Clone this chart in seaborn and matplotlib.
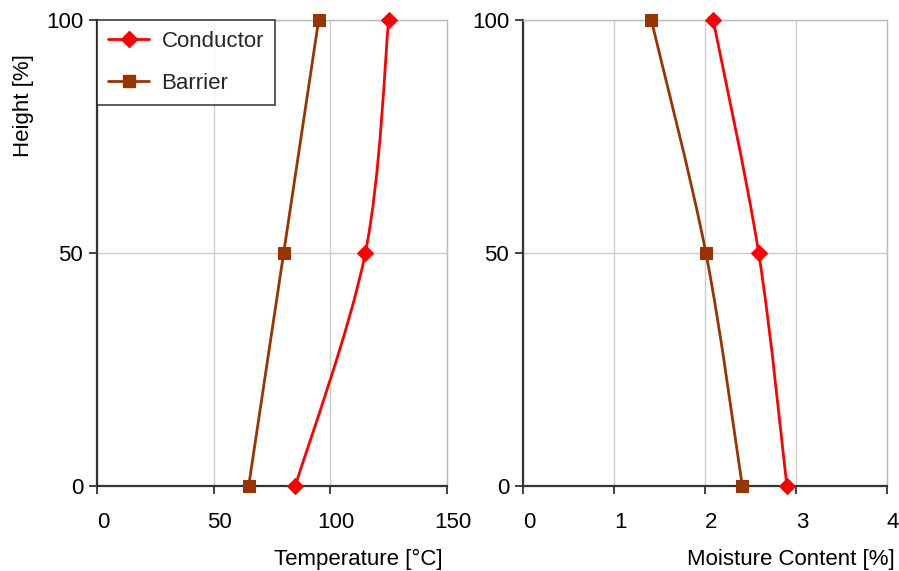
import numpy as np
import pandas as pd
import seaborn as sns
import matplotlib
matplotlib.use("Agg")
import matplotlib.pyplot as plt
from matplotlib.path import Path
from matplotlib.patches import PathPatch
from matplotlib.lines import Line2D
from matplotlib.transforms import ScaledTranslation

heights = [0, 50, 100]
temp_conductor = [85, 115, 125]
temp_barrier = [65, 80, 95]
moist_conductor = [2.9, 2.59, 2.09]
moist_barrier = [2.41, 2.01, 1.41]
series_names = ["Conductor", "Barrier"]
temp_ticks = [0, 50, 100, 150]
moist_ticks = [0, 1, 2, 3, 4]
height_ticks = [0, 50, 100]

colors = {"Conductor": "#FF0000", "Barrier": "#993300"}
markers = {"Conductor": "D", "Barrier": "s"}
msizes = {"Conductor": 8, "Barrier": 9}

sns.set_theme(style="white")
plt.rcParams["font.family"] = ["Liberation Sans", "DejaVu Sans"]

W, H = 899, 571
FS = 16
fig = plt.figure(figsize=(W / 100, H / 100), dpi=100)

def ax_rect(x0, x1, y0, y1):
    return [x0 / W, 1 - y1 / H, (x1 - x0) / W, (y1 - y0) / H]

axL = fig.add_axes(ax_rect(97, 447, 20, 486))
axR = fig.add_axes(ax_rect(523, 887, 20, 486))


def smooth_path(xs, ys):
    P = np.column_stack([xs, ys]).astype(float)
    n = len(P)
    verts = [P[0]]
    codes = [Path.MOVETO]
    for i in range(n - 1):
        prev = P[i - 1] if i > 0 else P[i]
        nxt = P[i + 2] if i + 2 < n else P[i + 1]
        c1 = P[i] + (P[i + 1] - prev) / 6.0
        c2 = P[i + 1] - (nxt - P[i]) / 6.0
        verts += [c1, c2, P[i + 1]]
        codes += [Path.CURVE4] * 3
    return Path(verts, codes)


def draw_panel(ax, cond, barr, xlim, xticks, xlabel, label_right_px):
    df = pd.DataFrame({
        "x": list(cond) + list(barr),
        "h": heights * 2,
        "series": ["Conductor"] * 3 + ["Barrier"] * 3,
    })
    for name, vals in (("Barrier", barr), ("Conductor", cond)):
        ax.add_patch(PathPatch(smooth_path(vals, heights), fill=False,
                               edgecolor=colors[name], lw=2, zorder=3,
                               clip_on=False))
    for name in series_names:
        sub = df[df.series == name]
        sns.lineplot(data=sub, x="x", y="h", sort=False, orient="y", ax=ax,
                     color=colors[name], marker=markers[name],
                     markersize=msizes[name], markeredgecolor=colors[name],
                     linewidth=0, legend=False, zorder=4, clip_on=False)
    ax.set_xlim(*xlim)
    ax.set_ylim(0, 100)
    ax.set_xticks(xticks)
    ax.set_yticks(height_ticks)
    ax.set_xticklabels([str(t) for t in xticks])
    ax.set_yticklabels([str(t) for t in height_ticks])
    ax.grid(True, color="#cccccc", lw=1)
    ax.set_axisbelow(True)
    for s in ("top", "right"):
        ax.spines[s].set_color("#bbbbbb")
        ax.spines[s].set_linewidth(1)
    for s in ("left", "bottom"):
        ax.spines[s].set_color("#333333")
        ax.spines[s].set_linewidth(1.6)
    ax.tick_params(axis="both", which="major", direction="out", length=6,
                   width=1.3, color="#333333", labelsize=FS, labelcolor="black",
                   bottom=True, left=True, top=False, right=False)
    ax.tick_params(axis="x", pad=13)
    ax.tick_params(axis="y", pad=4)
    shift = ScaledTranslation(6 / 100, 0, fig.dpi_scale_trans)
    for lab in ax.get_xticklabels():
        lab.set_transform(lab.get_transform() + shift)
    ax.set_xlabel("")
    ax.set_ylabel("")
    fig.text(label_right_px / W, 1 - 559 / H, xlabel, ha="right", va="center",
             fontsize=FS, color="black")


draw_panel(axL, temp_conductor, temp_barrier, (0, 150), temp_ticks,
           "Temperature [°C]", 443)
draw_panel(axR, moist_conductor, moist_barrier, (0, 4), moist_ticks,
           "Moisture Content [%]", 895)

fig.text(24 / W, 1 - 106 / H, "Height [%]", rotation=90, ha="center",
         va="center", fontsize=FS, color="black")

handles = [Line2D([0], [0], color=colors[n], lw=2, marker=markers[n],
                  markersize=msizes[n], markeredgecolor=colors[n])
           for n in series_names]
leg = axL.legend(handles, series_names, loc="upper left",
                 bbox_to_anchor=(0, 1), borderaxespad=0, fontsize=FS,
                 frameon=True, fancybox=False, handlelength=1.85,
                 borderpad=0.5, labelspacing=0.93, handletextpad=0.55)
leg.get_frame().set_edgecolor("#222222")
leg.get_frame().set_linewidth(1.3)
leg.set_zorder(10)

fig.savefig("out.png", dpi=100)
